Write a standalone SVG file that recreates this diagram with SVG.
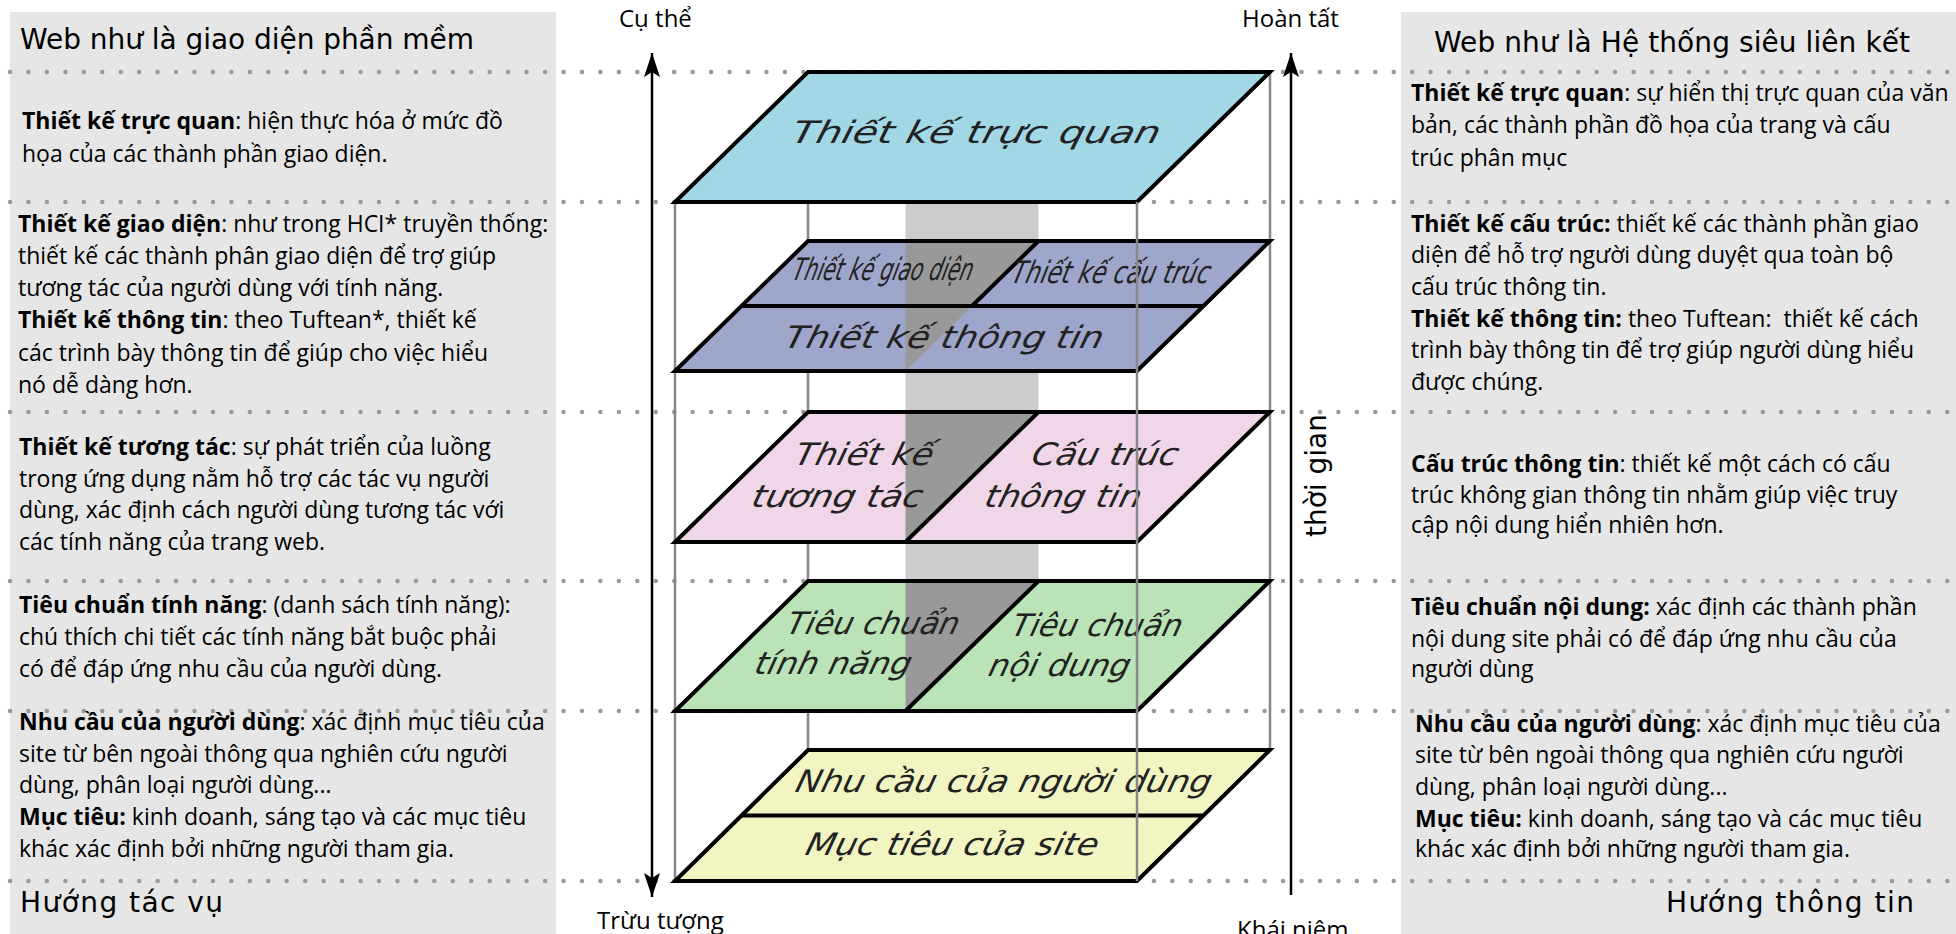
<svg xmlns="http://www.w3.org/2000/svg" width="1956" height="934" viewBox="0 0 1956 934">
<style>
.panel{fill:#e6e6e6}
.dots{stroke:#999;stroke-width:4.5;stroke-linecap:round;stroke-dasharray:0 18.45;fill:none}
.body{font-family:"Open Sans","Noto Sans",sans-serif;font-size:23px;fill:#000}
.b{font-weight:700}
.head{font-family:"DejaVu Sans","Noto Sans",sans-serif;font-size:28px;fill:#000}
.lab{font-family:"Open Sans","Noto Sans",sans-serif;font-size:24px;fill:#000}
.edge{stroke:#888;stroke-width:2.5;fill:none}
.outline{fill:none;stroke:#000;stroke-width:4;stroke-linejoin:miter}
.split{stroke:#000;stroke-width:4;fill:none}
.dark{fill:#999}
.ltxt{font-family:"DejaVu Sans","Noto Sans",sans-serif;font-style:oblique;fill:#222;font-size:31px}
.arrow{stroke:#000;stroke-width:2.5;fill:none}
</style>
<defs>
<marker id="ah" markerUnits="userSpaceOnUse" markerWidth="30" markerHeight="20" viewBox="-2 -10 30 20" refX="24" refY="0" orient="auto-start-reverse">
<path d="M0,-8 L24,0 L0,8 L5,0 Z" fill="#000"/>
</marker>
</defs>

<g id="panels">
<rect class="panel" x="10" y="12" width="546" height="922"/>
<rect class="panel" x="1401" y="12" width="555" height="922"/>
</g>

<g id="dotted-lines">
<line class="dots" x1="10" y1="72" x2="1956" y2="72"/>
<line class="dots" x1="10" y1="202" x2="1956" y2="202"/>
<line class="dots" x1="10" y1="412" x2="1956" y2="412"/>
<line class="dots" x1="10" y1="581" x2="1956" y2="581"/>
<line class="dots" x1="10" y1="711" x2="1956" y2="711"/>
<line class="dots" x1="10" y1="881" x2="1956" y2="881"/>
</g>

<g id="box-back">
<rect x="905.5" y="202" width="133" height="379" fill="#cccccc"/>
<line class="edge" x1="675" y1="202" x2="675" y2="881"/>
<line class="edge" x1="808" y1="72" x2="808" y2="750"/>
<line class="edge" x1="1270" y1="72" x2="1270" y2="750"/>
</g>

<g id="layer-visual">
<polygon points="808,72 1270,72 1137,202 675,202" fill="#a2d8e6"/>
<polygon class="outline" points="808,72 1270,72 1137,202 675,202"/>
<text class="ltxt" transform="translate(790,143) skewX(-14)" font-size="40" textLength="368" lengthAdjust="spacingAndGlyphs">Thiết kế trực quan</text>
</g>

<g id="layer-interface-info">
<polygon points="808,241 1270,241 1137,371 675,371" fill="#9ea6cc"/>
<polygon class="dark" points="905.5,241 1038.5,241 905.5,371"/>
<line class="split" x1="741.5" y1="306" x2="1203.5" y2="306"/>
<line class="split" x1="1038.5" y1="241" x2="972" y2="306"/>
<polygon class="outline" points="808,241 1270,241 1137,371 675,371"/>
<text class="ltxt" transform="translate(791,280) skewX(-14)" font-size="24" textLength="180" lengthAdjust="spacingAndGlyphs">Thiết kế giao diện</text>
<text class="ltxt" transform="translate(1010,283) skewX(-14)" font-size="24" textLength="198" lengthAdjust="spacingAndGlyphs">Thiết kế cấu trúc</text>
<text class="ltxt" transform="translate(783,348) skewX(-14)" font-size="32" textLength="318" lengthAdjust="spacingAndGlyphs">Thiết kế thông tin</text>
</g>

<g id="layer-interaction-ia">
<polygon points="808,412 1270,412 1137,542 675,542" fill="#efd6e8"/>
<polygon class="dark" points="905.5,412 1038.5,412 905.5,542"/>
<line class="split" x1="1038.5" y1="412" x2="905.5" y2="542"/>
<polygon class="outline" points="808,412 1270,412 1137,542 675,542"/>
<text class="ltxt" transform="translate(793,465) skewX(-14)" textLength="138" lengthAdjust="spacingAndGlyphs">Thiết kế</text>
<text class="ltxt" transform="translate(750,507) skewX(-14)" textLength="170" lengthAdjust="spacingAndGlyphs">tương tác</text>
<text class="ltxt" transform="translate(1030,465) skewX(-14)" textLength="146" lengthAdjust="spacingAndGlyphs">Cấu trúc</text>
<text class="ltxt" transform="translate(983,507) skewX(-14)" textLength="156" lengthAdjust="spacingAndGlyphs">thông tin</text>
</g>

<g id="layer-requirements">
<polygon points="808,581 1270,581 1137,711 675,711" fill="#bae3b7"/>
<polygon class="dark" points="905.5,581 1038.5,581 905.5,711"/>
<line class="split" x1="1038.5" y1="581" x2="905.5" y2="711"/>
<polygon class="outline" points="808,581 1270,581 1137,711 675,711"/>
<text class="ltxt" transform="translate(785,634) skewX(-14)" textLength="172" lengthAdjust="spacingAndGlyphs">Tiêu chuẩn</text>
<text class="ltxt" transform="translate(753,674) skewX(-14)" textLength="156" lengthAdjust="spacingAndGlyphs">tính năng</text>
<text class="ltxt" transform="translate(1010,636) skewX(-14)" textLength="170" lengthAdjust="spacingAndGlyphs">Tiêu chuẩn</text>
<text class="ltxt" transform="translate(987,676) skewX(-14)" textLength="141" lengthAdjust="spacingAndGlyphs">nội dung</text>
</g>

<g id="layer-needs-objectives">
<polygon points="808,750 1270,750 1137,881 675,881" fill="#f2f5c2"/>
<line class="split" x1="741.5" y1="815.5" x2="1203.5" y2="815.5"/>
<polygon class="outline" points="808,750 1270,750 1137,881 675,881"/>
<text class="ltxt" transform="translate(794,792) skewX(-14)" textLength="415" lengthAdjust="spacingAndGlyphs">Nhu cầu của người dùng</text>
<text class="ltxt" transform="translate(804,855) skewX(-14)" textLength="292" lengthAdjust="spacingAndGlyphs">Mục tiêu của site</text>
</g>

<g id="connectors">
<line class="edge" x1="1137" y1="202" x2="1137" y2="881"/>
<line class="arrow" x1="652" y1="53" x2="652" y2="897" marker-start="url(#ah)" marker-end="url(#ah)"/>
<line class="arrow" x1="1291" y1="53" x2="1291" y2="895" marker-start="url(#ah)"/>
</g>

<g id="axis-labels">
<text class="lab" x="619" y="27">Cụ thể</text>
<text class="lab" x="1242" y="27">Hoàn tất</text>
<text class="lab" x="597" y="929">Trừu tượng</text>
<text class="lab" x="1237" y="938">Khái niệm</text>
<text class="head" font-size="22" transform="translate(1326,537) rotate(-90)">thời gian</text>
</g>

<g id="left-panel-text">
<text class="head" x="20" y="49" textLength="454">Web như là giao diện phần mềm</text>
<text class="body" x="22" y="129"><tspan class="b">Thiết kế trực quan</tspan>: hiện thực hóa ở mức đồ</text>
<text class="body" x="22" y="162">họa của các thành phần giao diện.</text>
<text class="body" x="18" y="232"><tspan class="b">Thiết kế giao diện</tspan>: như trong HCI* truyền thống:</text>
<text class="body" x="18" y="264">thiết kế các thành phân giao diện để trợ giúp</text>
<text class="body" x="18" y="296">tương tác của người dùng với tính năng.</text>
<text class="body" x="18" y="328"><tspan class="b">Thiết kế thông tin</tspan>: theo Tuftean*, thiết kế</text>
<text class="body" x="18" y="361">các trình bày thông tin để giúp cho việc hiểu</text>
<text class="body" x="18" y="393">nó dễ dàng hơn.</text>
<text class="body" x="19" y="455"><tspan class="b">Thiết kế tương tác</tspan>: sự phát triển của luồng</text>
<text class="body" x="19" y="487">trong ứng dụng nằm hỗ trợ các tác vụ người</text>
<text class="body" x="19" y="518">dùng, xác định cách người dùng tương tác với</text>
<text class="body" x="19" y="550">các tính năng của trang web.</text>
<text class="body" x="19" y="613"><tspan class="b">Tiêu chuẩn tính năng</tspan>: (danh sách tính năng):</text>
<text class="body" x="19" y="645">chú thích chi tiết các tính năng bắt buộc phải</text>
<text class="body" x="19" y="677">có để đáp ứng nhu cầu của người dùng.</text>
<text class="body" x="19" y="730"><tspan class="b">Nhu cầu của người dùng</tspan>: xác định mục tiêu của</text>
<text class="body" x="19" y="762">site từ bên ngoài thông qua nghiên cứu người</text>
<text class="body" x="19" y="793">dùng, phân loại người dùng...</text>
<text class="body" x="19" y="825"><tspan class="b">Mục tiêu:</tspan> kinh doanh, sáng tạo và các mục tiêu</text>
<text class="body" x="19" y="857">khác xác định bởi những người tham gia.</text>
<text class="head" x="20" y="912" font-size="30" textLength="203">Hướng tác vụ</text>
</g>

<g id="right-panel-text">
<text class="head" x="1434" y="52" textLength="476">Web như là Hệ thống siêu liên kết</text>
<text class="body" x="1411" y="101"><tspan class="b">Thiết kế trực quan</tspan>: sự hiển thị trực quan của văn</text>
<text class="body" x="1411" y="133">bản, các thành phần đồ họa của trang và cấu</text>
<text class="body" x="1411" y="166">trúc phân mục</text>
<text class="body" x="1411" y="232"><tspan class="b">Thiết kế cấu trúc:</tspan> thiết kế các thành phần giao</text>
<text class="body" x="1411" y="263">diện để hỗ trợ người dùng duyệt qua toàn bộ</text>
<text class="body" x="1411" y="295">cấu trúc thông tin.</text>
<text class="body" x="1411" y="327" xml:space="preserve"><tspan class="b">Thiết kế thông tin:</tspan> theo Tuftean:  thiết kế cách</text>
<text class="body" x="1411" y="358">trình bày thông tin để trợ giúp người dùng hiểu</text>
<text class="body" x="1411" y="390">được chúng.</text>
<text class="body" x="1411" y="472"><tspan class="b">Cấu trúc thông tin</tspan>: thiết kế một cách có cấu</text>
<text class="body" x="1411" y="503">trúc không gian thông tin nhằm giúp việc truy</text>
<text class="body" x="1411" y="533">cập nội dung hiển nhiên hơn.</text>
<text class="body" x="1411" y="615"><tspan class="b">Tiêu chuẩn nội dung:</tspan> xác định các thành phần</text>
<text class="body" x="1411" y="647">nội dung site phải có để đáp ứng nhu cầu của</text>
<text class="body" x="1411" y="677">người dùng</text>
<text class="body" x="1415" y="732"><tspan class="b">Nhu cầu của người dùng</tspan>: xác định mục tiêu của</text>
<text class="body" x="1415" y="763">site từ bên ngoài thông qua nghiên cứu người</text>
<text class="body" x="1415" y="795">dùng, phân loại người dùng...</text>
<text class="body" x="1415" y="827"><tspan class="b">Mục tiêu:</tspan> kinh doanh, sáng tạo và các mục tiêu</text>
<text class="body" x="1415" y="857">khác xác định bởi những người tham gia.</text>
<text class="head" x="1666" y="912" font-size="30" textLength="248">Hướng thông tin</text>
</g>
</svg>
